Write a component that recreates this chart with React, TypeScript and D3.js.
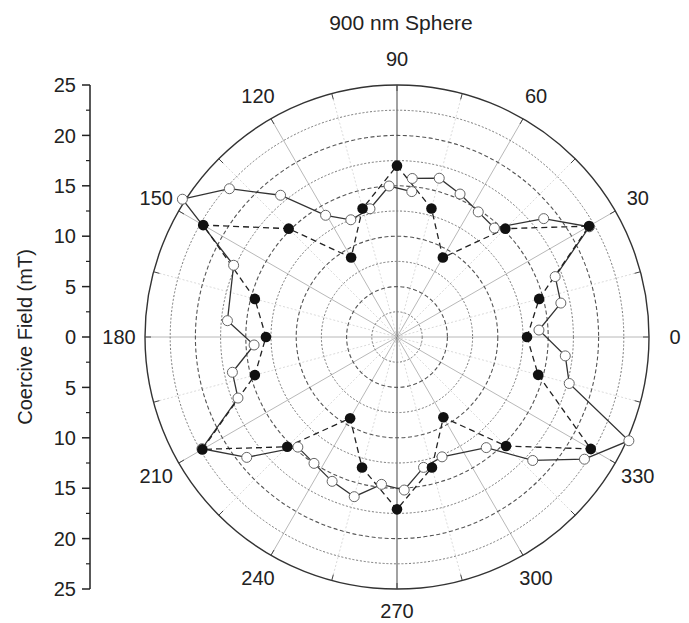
import React from "react";
import * as d3 from "d3";

// Filled series (dashed line), angle in degrees, coercive field in mT
const filledAngles = [0, 15, 30, 45, 60, 75, 90, 105, 120, 135, 150, 165, 180, 195, 210, 225, 240, 255, 270, 285, 300, 315, 330, 345];
const filledValues = [12.9, 14.6, 22.0, 15.2, 9.1, 13.2, 17.0, 13.2, 9.1, 15.2, 22.2, 14.6, 13.0, 14.6, 22.3, 15.4, 9.3, 13.4, 17.1, 13.4, 9.2, 15.3, 22.2, 14.5];

// Open series (solid line)
const openAngles = [84.5, 75.1, 66.2, 57.0, 48.2, 38.9, 29.8, 20.9, 11.7, 2.8, 353.6, 344.9, 335.9, 326.9, 317.7, 308.9, 290.6, 281.5, 272.7, 264.0, 255.0, 245.8, 236.7, 228.0, 218.7, 209.8, 201.0, 192.1, 183.2, 174.5, 156.3, 147.3, 138.5, 129.4, 120.4, 111.5, 101.9, 93.0, 84.2];
const openValues = [15.8, 16.3, 15.5, 14.8, 14.5, 18.7, 22.0, 16.8, 16.6, 14.1, 16.8, 17.7, 25.2, 22.2, 18.2, 14.1, 12.7, 13.2, 15.2, 14.7, 16.4, 15.7, 15.0, 14.7, 19.1, 22.3, 16.9, 16.7, 14.2, 16.9, 17.7, 25.3, 22.2, 18.2, 14.0, 12.5, 13.0, 15.0, 14.5];

const ringValues = [2.5, 5, 7.5, 10, 12.5, 15, 17.5, 20, 22.5];
const angleLabels = [0, 30, 60, 90, 120, 150, 180, 210, 240, 270, 300, 330];
const minorAngles = [15, 45, 75, 105, 135, 165, 195, 225, 255, 285, 315, 345];
const axisTicks = [-25, -20, -15, -10, -5, 0, 5, 10, 15, 20, 25];
const axisMinor = [-22.5, -17.5, -12.5, -7.5, -2.5, 2.5, 7.5, 12.5, 17.5, 22.5];

const title = "900 nm Sphere";
const yTitle = "Coercive Field (mT)";

const W = 689, H = 623;
const cx = 397, cy = 337;
const FONT = "'Liberation Sans', Arial, Helvetica, sans-serif";
const FS = 20;

export default function App() {
  const r = d3.scaleLinear().domain([0, 25]).range([0, 252]);
  const y = d3.scaleLinear().domain([25, -25]).range([85, 589]);
  const toA = (deg: number) => ((90 - deg) * Math.PI) / 180;

  const filled = filledAngles.map((a, i) => ({ a, v: filledValues[i] }));
  const open = openAngles.map((a, i) => ({ a, v: openValues[i] }));

  const filledLine = d3
    .lineRadial<{ a: number; v: number }>()
    .angle((d) => toA(d.a))
    .radius((d) => r(d.v))
    .curve(d3.curveLinearClosed);
  const openLine = d3
    .lineRadial<{ a: number; v: number }>()
    .angle((d) => toA(d.a))
    .radius((d) => r(d.v))
    .curve(d3.curveLinear);

  const R = r(25);

  return (
    <svg width={W} height={H} style={{ position: "absolute", left: 0, top: 0, background: "#fff" }} fontFamily={FONT}>
      <rect width={W} height={H} fill="#fff" />
      <text x={401} y={30} textAnchor="middle" fontSize={FS + 1} fill="#222">{title}</text>

      {/* Left axis */}
      <g>
        <line x1={90} x2={90} y1={y(25)} y2={y(-25)} stroke="#222" strokeWidth={1.5} />
        {axisTicks.map((t) => (
          <g key={"t" + t}>
            <line x1={82} x2={90} y1={y(t)} y2={y(t)} stroke="#222" strokeWidth={1.5} />
            <text x={76} y={y(t)} dy="0.36em" textAnchor="end" fontSize={FS} fill="#222">{Math.abs(t)}</text>
          </g>
        ))}
        {axisMinor.map((t) => (
          <line key={"m" + t} x1={86} x2={90} y1={y(t)} y2={y(t)} stroke="#222" strokeWidth={1.2} />
        ))}
        <text transform={`translate(32,${cy}) rotate(-90)`} textAnchor="middle" fontSize={FS} fill="#222">{yTitle}</text>
      </g>

      <g transform={`translate(${cx},${cy})`}>
        {/* minor spokes */}
        {minorAngles.map((a) => {
          const [x, yy] = d3.pointRadial(toA(a), R);
          return <line key={"ms" + a} x1={0} y1={0} x2={x} y2={yy} stroke="#d0d0d0" strokeWidth={0.8} strokeDasharray="2,2" />;
        })}
        {/* major spokes */}
        {angleLabels.map((a) => {
          const [x, yy] = d3.pointRadial(toA(a), R);
          const vertical = a === 90 || a === 270;
          return (
            <line key={"s" + a} x1={0} y1={0} x2={x} y2={yy}
              stroke={vertical ? "#555" : "#b0b0b0"} strokeWidth={vertical ? 1.1 : 0.9} />
          );
        })}
        {/* rings */}
        {ringValues.map((v, i) => (
          <circle key={"r" + v} r={r(v)} fill="none"
            stroke={i % 2 === 1 ? "#555" : "#777"}
            strokeWidth={i % 2 === 1 ? 1.1 : 1}
            strokeDasharray={i % 2 === 1 ? "4,2.5" : "2,1.8"} />
        ))}
        <circle r={R} fill="none" stroke="#333" strokeWidth={1.4} />
        {/* outer ticks */}
        {angleLabels.concat(minorAngles).map((a) => {
          const [x1, y1] = d3.pointRadial(toA(a), R);
          const [x2, y2] = d3.pointRadial(toA(a), R - 6);
          return <line key={"ot" + a} x1={x1} y1={y1} x2={x2} y2={y2} stroke="#444" strokeWidth={1} />;
        })}
        {/* angle labels */}
        {angleLabels.map((a) => {
          const [x, yy0] = d3.pointRadial(toA(a), R + 26);
          const yy = Math.min(yy0, H - cy - 12);
          return (
            <text key={"al" + a} x={x} y={yy} dy="0.36em" textAnchor="middle" fontSize={FS} fill="#222">{a}</text>
          );
        })}

        {/* open series */}
        <path d={openLine(open) || ""} fill="none" stroke="#333" strokeWidth={1.3} />
        {/* filled series line */}
        <path d={filledLine(filled) || ""} fill="none" stroke="#222" strokeWidth={1.3} strokeDasharray="6,4" />
        {open.map((d, i) => {
          const [x, yy] = d3.pointRadial(toA(d.a), r(d.v));
          return <circle key={"o" + i} cx={x} cy={yy} r={5} fill="#fff" stroke="#666" strokeWidth={1} />;
        })}
        {filled.map((d, i) => {
          const [x, yy] = d3.pointRadial(toA(d.a), r(d.v));
          return <circle key={"f" + i} cx={x} cy={yy} r={5.3} fill="#111" />;
        })}
      </g>
    </svg>
  );
}
